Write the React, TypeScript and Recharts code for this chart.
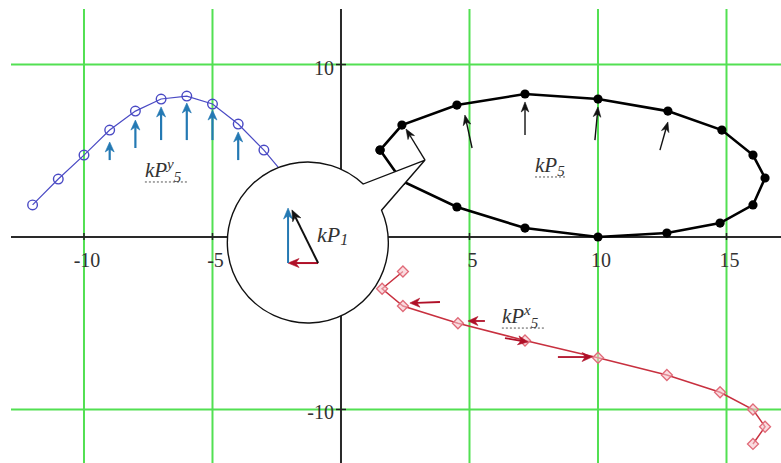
import React from 'react';
import {
  ComposedChart,
  Line,
  XAxis,
  YAxis,
  CartesianGrid,
  ReferenceLine,
  ReferenceDot,
} from 'recharts';

// Plot window
const X_MIN = -12.84;
const X_MAX = 17.86;
const Y_MIN = -14.09;
const Y_MAX = 13.22;

// Grid and tick values
const gridX = [-10, -5, 5, 10, 15];
const gridY = [-10, 10];
const xTicks = [-10, -5, 5, 10, 15];
const yTicks = [-10, 10];

// kP5: closed trajectory (black)
const kP5X = [1.52, 2.37, 4.51, 7.16, 10.0, 12.72, 14.82, 16.03, 16.5, 16.03, 14.75, 12.68, 10.0, 7.16, 4.51, 2.37];
const kP5Y = [5.04, 6.49, 7.65, 8.29, 8.0, 7.3, 6.2, 4.75, 3.42, 1.86, 0.81, 0.23, 0.0, 0.52, 1.74, 3.25];

// kP^y_5: y-components laid out on unit steps (blue)
const kPy5X = [-12, -11, -10, -9, -8, -7, -6, -5, -4, -3, -2];
const kPy5Y = [1.86, 3.36, 4.75, 6.2, 7.3, 8.0, 8.17, 7.71, 6.55, 5.04, 3.25];

// kP^x_5: x-components laid out on unit steps (red)
const kPx5X = [2.41, 1.6, 2.41, 4.55, 7.16, 10.0, 12.68, 14.75, 16.03, 16.5, 16.03];
const kPx5Y = [-2, -3, -4, -5, -6, -7, -8, -9, -10, -11, -12];

// Force arrows: [x1, y1, x2, y2], tail to head
const kP5Arrows = [
  [3.27, 4.46, 2.53, 6.26],
  [5.1, 5.16, 4.82, 7.07],
  [7.16, 5.91, 7.16, 7.83],
  [9.88, 5.62, 10.0, 7.54],
  [12.41, 5.04, 12.72, 6.67],
];
const kPyArrows = [
  [-9, 4.46, -9, 5.51],
  [-8, 5.16, -8, 6.78],
  [-7, 5.62, -7, 7.54],
  [-6, 5.62, -6, 7.77],
  [-5, 5.62, -5, 7.36],
  [-4, 4.46, -4, 6.09],
];
const kPxArrows = [
  [3.85, -3.77, 2.68, -3.83],
  [5.6, -4.87, 4.94, -4.87],
  [6.38, -5.86, 7.28, -6.09],
  [8.44, -6.96, 9.77, -6.96],
];

// Magnified kP1 inside the callout
const calloutCenter = { x: -1.29, y: -0.32 };
const calloutTip = { x: 3.27, y: 4.46 };
const kP1Arrows = [
  { seg: [-0.89, -1.51, -2.06, -1.51], color: '#b01028' },
  { seg: [-2.06, -1.51, -2.06, 1.68], color: '#2479b3' },
  { seg: [-0.89, -1.51, -1.91, 1.57], color: '#111111' },
];

// Series labels: [x, y, main, sup, sub]
const seriesLabels: [number, number, string, string, string][] = [
  [-7.63, 3.48, 'kP', 'y', '5'],
  [7.55, 3.77, 'kP', '', '5'],
  [6.26, -4.99, 'kP', 'x', '5'],
];
const kP1Label: [number, number, string, string, string] = [-0.93, -0.29, 'kP', '', '1'];

const toPoints = (xs: number[], ys: number[]) => xs.map((x, i) => ({ x, y: ys[i] }));
const kP5Data = [...toPoints(kP5X, kP5Y), { x: kP5X[0], y: kP5Y[0] }];
const kPy5Data = toPoints(kPy5X, kPy5Y);
const kPx5Data = toPoints(kPx5X, kPx5Y);

const SERIF = '"Liberation Serif", "DejaVu Serif", serif';

const arrowShape = (color: string, width: number, len: number, half: number) => (p: any) => {
  const { x1, y1, x2, y2 } = p;
  const dx = x2 - x1;
  const dy = y2 - y1;
  const l = Math.hypot(dx, dy) || 1;
  const ux = dx / l;
  const uy = dy / l;
  const nx = -uy;
  const ny = ux;
  const bx = x2 - ux * len;
  const by = y2 - uy * len;
  const notch = len * 0.7;
  const pts = [
    [x2, y2],
    [bx + nx * half, by + ny * half],
    [x2 - ux * notch, y2 - uy * notch],
    [bx - nx * half, by - ny * half],
  ]
    .map((q) => q.join(','))
    .join(' ');
  return (
    <g>
      <line x1={x1} y1={y1} x2={x2 - ux * notch} y2={y2 - uy * notch} stroke={color} strokeWidth={width} />
      <polygon points={pts} fill={color} stroke={color} strokeWidth={0.6} strokeLinejoin="miter" />
    </g>
  );
};

const calloutShape = (p: any) => {
  const { x1: cx, y1: cy, x2: tx, y2: ty } = p;
  const r = 80.5;
  const ang = Math.atan2(ty - cy, tx - cx);
  const spread = 0.2;
  const a1 = ang + spread;
  const a2 = ang - spread;
  const p1x = cx + r * Math.cos(a1);
  const p1y = cy + r * Math.sin(a1);
  const p2x = cx + r * Math.cos(a2);
  const p2y = cy + r * Math.sin(a2);
  const d = `M${p1x},${p1y} A${r},${r} 0 1 1 ${p2x},${p2y} L${tx},${ty} Z`;
  return <path d={d} fill="#ffffff" stroke="#111111" strokeWidth={1.4} />;
};

const xTickShape = (v: number) => (p: any) => (
  <g>
    <line x1={p.cx} y1={p.cy - 4} x2={p.cx} y2={p.cy + 3} stroke="#222" strokeWidth={1.5} />
    <text x={p.cx + 3} y={p.cy + 30} textAnchor="middle" fontFamily={SERIF} fontSize={20} fill="#333">
      {String(v)}
    </text>
  </g>
);

const yTickShape = (v: number) => (p: any) => (
  <g>
    <line x1={p.cx - 5} y1={p.cy} x2={p.cx + 5} y2={p.cy} stroke="#222" strokeWidth={1.5} />
    <text x={p.cx - 7} y={p.cy + 10} textAnchor="end" fontFamily={SERIF} fontSize={20} fill="#333">
      {String(v)}
    </text>
  </g>
);

const labelShape = (main: string, sup: string, sub: string) => (p: any) => {
  const w = 22 + (sup ? 10 : 0) + 10;
  return (
    <g>
      <text x={p.cx} y={p.cy} fontFamily={SERIF} fontStyle="italic" fontSize={21} fill="#333">
        {main}
        {sup ? (
          <tspan fontSize={15} dy={-8}>
            {sup}
          </tspan>
        ) : null}
        <tspan fontSize={15} dy={sup ? 13 : 4}>
          {sub}
        </tspan>
      </text>
      <line
        x1={p.cx}
        y1={p.cy + 5}
        x2={p.cx + w}
        y2={p.cy + 5}
        stroke="#555"
        strokeWidth={1}
        strokeDasharray="2 2"
      />
    </g>
  );
};

const blueDot = (p: any) => (
  <circle key={`b${p.index}`} cx={p.cx} cy={p.cy} r={4.8} fill="none" stroke="#4a4ac4" strokeWidth={1.4} />
);
const blackDot = (p: any) => <circle key={`k${p.index}`} cx={p.cx} cy={p.cy} r={4.6} fill="#000" />;
const redDot = (p: any) => {
  const s = 5.5;
  const pts = `${p.cx},${p.cy - s} ${p.cx + s},${p.cy} ${p.cx},${p.cy + s} ${p.cx - s},${p.cy}`;
  return <polygon key={`r${p.index}`} points={pts} fill="#f6c4cb" fillOpacity={0.6} stroke="#e06a78" strokeWidth={1.3} />;
};

export default function App() {
  return (
    <div
      style={{
        position: 'absolute',
        left: 0,
        top: 0,
        width: 781,
        height: 463,
        overflow: 'hidden',
        background: '#fff',
      }}
    >
      <ComposedChart width={800} height={480} margin={{ top: 9, right: 0, bottom: 0, left: 11 }}>
        <XAxis type="number" dataKey="x" domain={[X_MIN, X_MAX]} allowDataOverflow hide />
        <YAxis type="number" dataKey="y" domain={[Y_MIN, Y_MAX]} allowDataOverflow hide />
        <CartesianGrid
          stroke="#52e052"
          strokeWidth={2}
          horizontalValues={gridY}
          verticalValues={gridX}
          fill="none"
        />
        <ReferenceLine y={0} stroke="#2a2a2a" strokeWidth={2} />
        <ReferenceLine x={0} stroke="#2a2a2a" strokeWidth={2} />
        {xTicks.map((v) => (
          <ReferenceDot key={`xt${v}`} x={v} y={0} r={0} shape={xTickShape(v)} />
        ))}
        {yTicks.map((v) => (
          <ReferenceDot key={`yt${v}`} x={0} y={v} r={0} shape={yTickShape(v)} />
        ))}

        <Line
          data={kPy5Data}
          dataKey="y"
          type="linear"
          stroke="#4a4ac4"
          strokeWidth={1.2}
          dot={blueDot}
          activeDot={false}
          isAnimationActive={false}
        />
        <Line
          data={kPx5Data}
          dataKey="y"
          type="linear"
          stroke="#c8303f"
          strokeWidth={1.5}
          dot={redDot}
          activeDot={false}
          isAnimationActive={false}
        />
        <Line
          data={kP5Data}
          dataKey="y"
          type="linear"
          stroke="#000"
          strokeWidth={2.6}
          dot={blackDot}
          activeDot={false}
          isAnimationActive={false}
        />

        {kPyArrows.map((a, i) => (
          <ReferenceLine
            key={`ay${i}`}
            segment={[{ x: a[0], y: a[1] }, { x: a[2], y: a[3] }]}
            ifOverflow="visible"
            zIndex={1500}
            shape={arrowShape('#2479b3', 2.2, 10, 4.5)}
          />
        ))}
        {kPxArrows.map((a, i) => (
          <ReferenceLine
            key={`ax${i}`}
            segment={[{ x: a[0], y: a[1] }, { x: a[2], y: a[3] }]}
            ifOverflow="visible"
            zIndex={1500}
            shape={arrowShape('#b01028', 1.8, 10, 4.5)}
          />
        ))}
        {kP5Arrows.map((a, i) => (
          <ReferenceLine
            key={`ak${i}`}
            segment={[{ x: a[0], y: a[1] }, { x: a[2], y: a[3] }]}
            ifOverflow="visible"
            zIndex={1500}
            shape={arrowShape('#111', 1.4, 10, 3.8)}
          />
        ))}

        {seriesLabels.map((l, i) => (
          <ReferenceDot
            key={`lb${i}`}
            x={l[0]}
            y={l[1]}
            r={0}
            zIndex={1500}
            shape={labelShape(l[2], l[3], l[4])}
          />
        ))}

        <ReferenceLine
          segment={[calloutCenter, calloutTip]}
          ifOverflow="visible"
          zIndex={2500}
          shape={calloutShape}
        />
        {kP1Arrows.map((a, i) => (
          <ReferenceLine
            key={`a1${i}`}
            segment={[{ x: a.seg[0], y: a.seg[1] }, { x: a.seg[2], y: a.seg[3] }]}
            ifOverflow="visible"
            zIndex={2600}
            shape={arrowShape(a.color, 2, 11, 4.5)}
          />
        ))}
        <ReferenceDot
          x={kP1Label[0]}
          y={kP1Label[1]}
          r={0}
          zIndex={2600}
          shape={(p: any) => (
            <text x={p.cx} y={p.cy} fontFamily={SERIF} fontStyle="italic" fontSize={22} fill="#333">
              {kP1Label[2]}
              <tspan fontSize={16} dy={3}>
                {kP1Label[4]}
              </tspan>
            </text>
          )}
        />
      </ComposedChart>
    </div>
  );
}
